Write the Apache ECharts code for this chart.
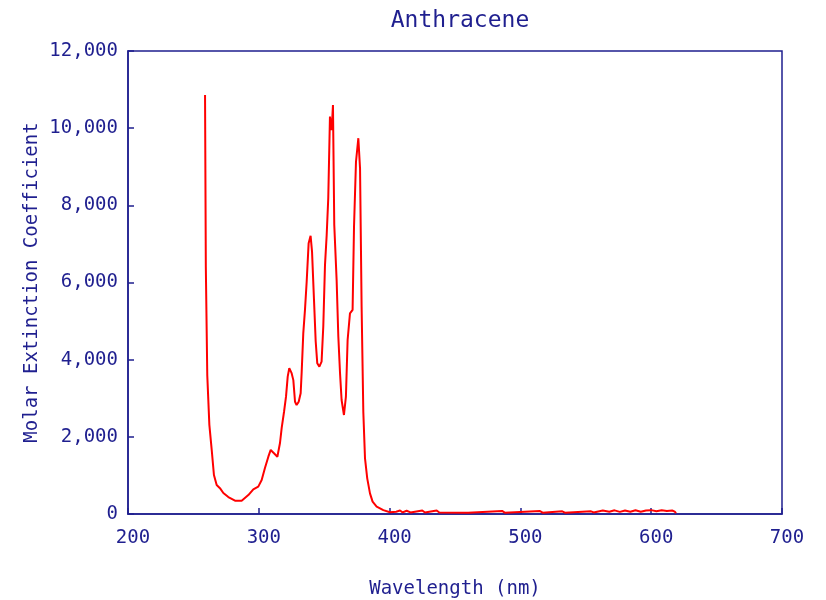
<!DOCTYPE html>
<html>
<head>
<meta charset="utf-8">
<script src="https://cdn.jsdelivr.net/npm/echarts@6/dist/echarts.min.js"></script>
<style>html,body{margin:0;padding:0;background:#fff;}#c{width:826px;height:600px;}</style>
</head>
<body>
<div id="c"></div>
<script>
const chartTitle = 'Anthracene';
const xTitle = 'Wavelength (nm)';
const yTitle = 'Molar Extinction Coefficient';
const wavelength = [258.9, 259.5, 260.6, 262.2, 264.0, 265.7, 267.8, 270.3, 272.9, 276.7, 281.8, 286.9, 292.0, 295.8, 299.6, 302.2, 304.7, 307.3, 309.1, 311.6, 314.2, 316.2, 317.5, 319.3, 320.8, 322.1, 323.3, 325.1, 326.4, 327.7, 328.9, 330.5, 332.0, 332.8, 334.0, 335.3, 336.6, 338.1, 339.6, 340.7, 342.2, 343.5, 344.7, 346.3, 348.0, 349.3, 350.6, 351.9, 353.1, 354.4, 355.7, 356.7, 357.7, 359.5, 360.8, 362.1, 363.3, 365.1, 366.6, 367.9, 369.7, 371.7, 372.8, 374.3, 376.1, 377.4, 378.6, 379.9, 381.2, 382.9, 385.0, 387.0, 390.1, 395.2, 400.3,
  405, 408, 410, 413, 416, 425, 427, 436, 438, 460, 486, 488, 515, 517, 532, 534, 554, 556, 563, 568, 572, 576, 580, 584, 588, 592, 596, 600, 604, 608, 612, 616, 618, 619];
const absorbance = [10860, 6410, 3600, 2310, 1660, 1010, 750, 670, 545, 440, 345, 345, 490, 640, 710, 880, 1190, 1485, 1660, 1575, 1485, 1840, 2230, 2650, 3040, 3560, 3780, 3650, 3470, 2910, 2825, 2910, 3130, 3690, 4680, 5290, 6020, 7020, 7210, 6800, 5550, 4470, 3905, 3820, 3950, 4860, 6450, 7230, 8180, 10300, 9950, 10600, 7490, 6065, 4600, 3650, 2955, 2566, 3040, 4510, 5200, 5290, 7450, 9130, 9740, 8960, 5375, 2650, 1440, 925, 535, 320, 190, 100, 45,
  60, 90, 40, 85, 40, 90, 40, 90, 40, 35, 80, 35, 75, 35, 70, 35, 70, 40, 90, 60, 95, 55, 90, 60, 95, 60, 90, 100, 70, 95, 75, 90, 60, 20];

const navy = '#1f1f8f';
const font = 'DejaVu Sans Mono';
const chart = echarts.init(document.getElementById('c'), null, {renderer: 'canvas'});
chart.setOption({
  animation: false,
  backgroundColor: '#fff',
  title: {text: chartTitle, left: 455, top: 5, textAlign: 'center',
    textStyle: {color: navy, fontFamily: font, fontSize: 23, fontWeight: 'normal'}},
  grid: {left: 128, right: 44, top: 51, bottom: 86, show: true, borderColor: navy, borderWidth: 1.5,
    backgroundColor: 'transparent', containLabel: false, outerBoundsMode: 'none'},
  xAxis: {
    type: 'value', min: 200, max: 700, interval: 100,
    name: xTitle, nameLocation: 'middle', nameGap: 66,
    nameTextStyle: {color: navy, fontFamily: font, fontSize: 19},
    axisLine: {show: true, lineStyle: {color: navy, width: 1.5}},
    axisTick: {show: true, inside: true, length: 6, lineStyle: {color: navy, width: 1.5}},
    axisLabel: {color: navy, fontFamily: font, fontSize: 19, margin: 15, padding: [0, 0, 0, 10]},
    splitLine: {show: false}
  },
  yAxis: {
    type: 'value', min: 0, max: 12000, interval: 2000,
    name: yTitle, nameLocation: 'middle', nameGap: 86, nameRotate: 90, nameMoveOverlap: false,
    nameTextStyle: {color: navy, fontFamily: font, fontSize: 19},
    axisLine: {show: true, lineStyle: {color: navy, width: 1.5}},
    axisTick: {show: true, inside: true, length: 6, lineStyle: {color: navy, width: 1.5}},
    axisLabel: {color: navy, fontFamily: font, fontSize: 19, margin: 10,
      formatter: v => v.toLocaleString('en-US')},
    splitLine: {show: false}
  },
  series: [{
    type: 'line', showSymbol: false, symbol: 'none',
    data: wavelength.map((w, i) => [w, absorbance[i]]),
    lineStyle: {color: '#ff0000', width: 2},
    itemStyle: {color: '#ff0000'}
  }]
});
</script>
</body>
</html>
